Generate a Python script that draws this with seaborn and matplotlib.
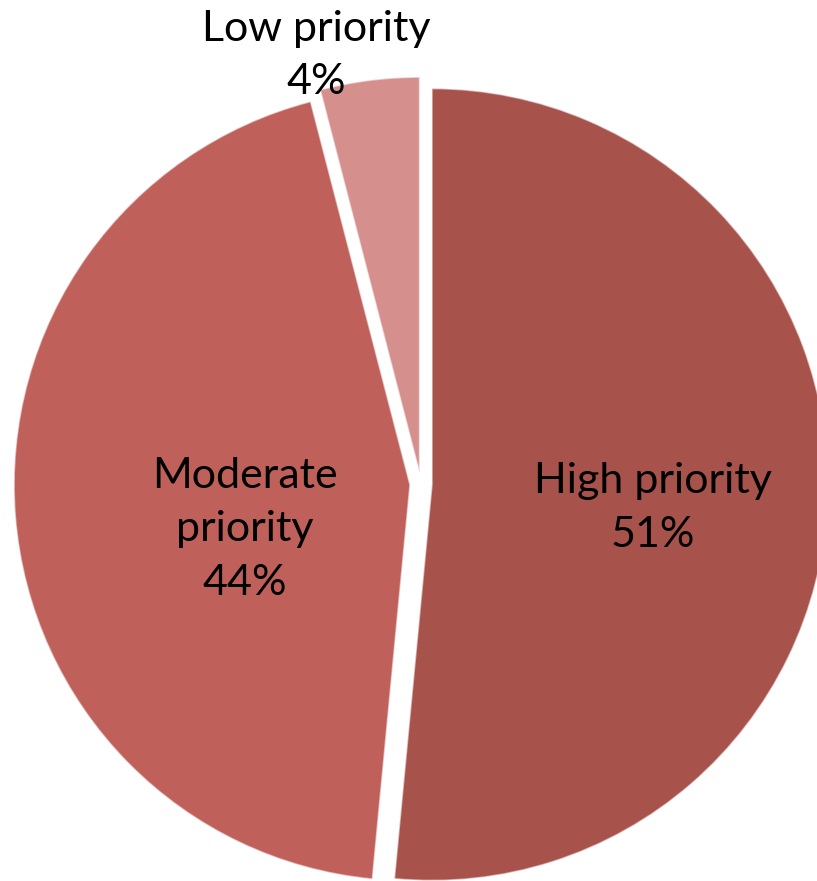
import matplotlib
matplotlib.use("Agg")
import matplotlib.pyplot as plt
import seaborn as sns
import numpy as np

# Share of items by priority level
categories = ["High priority", "Moderate priority", "Low priority"]
shares = [51, 44, 4]
label_text = ["High priority", "Moderate\npriority", "Low priority"]

sns.set_theme(style="white")
plt.rcParams["font.family"] = ["Lato", "DejaVu Sans"]

palette = sns.color_palette(["#A8524C", "#C0605A", "#D5908E"])

W, H = 817, 881
fig = plt.figure(figsize=(W / 100, H / 100), dpi=100)
ax = fig.add_axes([0, 0, 1, 1])

R = 396   # pie radius in pixel units
GAP = 11  # outward shift of every slice, same units
wedges, _ = ax.pie(
    shares,
    colors=palette,
    startangle=90,
    counterclock=False,
    radius=R,
    explode=[GAP] * len(shares),
    wedgeprops=dict(edgecolor=(1, 1, 1, 0.55), linewidth=1.2),
)

# Label anchors (last-line baseline) relative to the pie centre
anchors = [(232, -63), (-176, -111), (-105, 390)]
for txt, v, (x, y) in zip(label_text, shares, anchors):
    ax.text(x, y, f"{txt}\n{v}%", ha="center", va="baseline",
            fontsize=31, color="black", linespacing=1.5,
            multialignment="center")

cx, cy = 421, 484
ax.set_xlim(-cx, W - cx)
ax.set_ylim(cy - H, cy)
ax.set_aspect("equal")
ax.axis("off")

fig.savefig("out.png", dpi=100, facecolor="white")
